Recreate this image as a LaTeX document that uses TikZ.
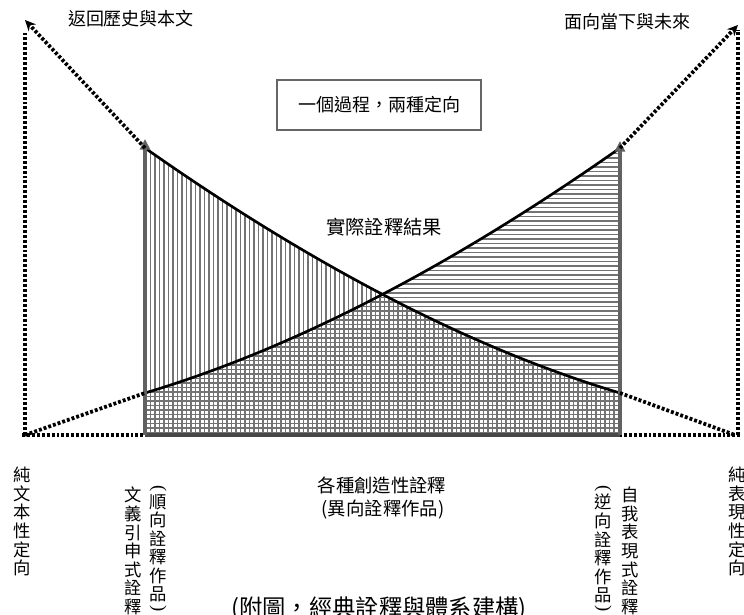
\documentclass[tikz,border=0pt]{standalone}
\usepackage{fontspec}
\setmainfont{Liberation Serif}
\newfontfamily\cjk{Noto Sans CJK TC}
\usetikzlibrary{arrows.meta}
\begin{document}
\begin{tikzpicture}[x=0.75pt,y=-0.75pt,
  dotln/.style={line width=2.8pt, dash pattern=on 2.2pt off 1.5pt, black},
  curv/.style={line width=2pt, black},
  hatchln/.style={line width=1.15pt, black!55},
  garrow/.style={line width=2.3pt, black!62, -{Triangle[length=8pt,width=7.5pt]}},
  dtip/.style={-{Stealth[length=8pt,width=7.5pt]}},
  lbl/.style={font=\cjk\fontsize{13.5}{14}\selectfont, inner sep=0pt},
  vlbl/.style={font=\cjk\fontsize{13}{13.9}\selectfont, inner sep=0pt, align=center, anchor=north},
  vparen/.style={font=\rmfamily\fontsize{14}{14}\selectfont, inner sep=0pt, rotate=-90},
  titlebox/.style={draw=black!60, line width=1.4pt, minimum width=153pt, minimum height=37.5pt, font=\cjk\fontsize{13.5}{14}\selectfont}
]
\useasboundingbox (0,0) rectangle (744,615);

% key points
\coordinate (TL) at (25,20);
\coordinate (TR) at (738,25);
\coordinate (BL) at (25,435);
\coordinate (BR) at (738,435);
\coordinate (LV) at (25,33);
\coordinate (RV) at (738,30);
\coordinate (B0) at (22,435);
\coordinate (B1) at (742,435);
\coordinate (DA) at (145,148);
\coordinate (DB) at (620,393);
\coordinate (AA) at (145,393);
\coordinate (AB) at (620,148);
\coordinate (DE) at (735,435);
\coordinate (GL0) at (145,435);
\coordinate (GL1) at (145,139);
\coordinate (GR0) at (620,435);
\coordinate (GR1) at (620,141);

% vertical hatching under descending curve
\begin{scope}
  \clip (GL0) -- (DA) .. controls (303,259) and (462,345.6) .. (DB) -- (GR0) -- cycle;
  \foreach \x in {146,150.5,...,622} \draw[hatchln] (\x,140) -- (\x,440);
\end{scope}
% horizontal hatching under ascending curve
\begin{scope}
  \clip (GL0) -- (AA) .. controls (303,345.6) and (462,259) .. (AB) -- (GR0) -- cycle;
  \foreach \y in {149,153.5,...,437} \draw[hatchln] (140,\y) -- (625,\y);
\end{scope}

% baseline and side verticals
\draw[dotln] (B0) -- (B1);
\draw[line width=2.4pt, black!72] (GL0) -- (GR0);
\draw[dotln] (BL) -- (LV);
\draw[dotln] (BR) -- (RV);

% curves
\draw[curv] (DA) .. controls (303,259) and (462,345.6) .. (DB);
\draw[curv] (AA) .. controls (303,345.6) and (462,259) .. (AB);

% gray arrows
\draw[garrow] (GL0) -- (GL1);
\draw[garrow] (GR0) -- (GR1);

% dotted continuations
\draw[dotln, dtip] (DA) -- (TL);
\draw[dotln] (DB) -- (DE);
\draw[dotln] (BL) -- (AA);
\draw[dotln, dtip] (AB) -- (TR);

% labels
\node[lbl] (past) at (131,19) {返回歷史與本文};
\node[lbl] (future) at (627,22) {面向當下與未來};
\node[titlebox] (box) at (379,105) {一個過程，兩種定向};
\node[lbl, font=\cjk\fontsize{14.5}{15}\selectfont] (result) at (384,227) {實際詮釋結果};
\node[lbl, font=\cjk\fontsize{13.8}{14}\selectfont] (creative) at (382,485) {各種創造性詮釋};
\node[lbl, font=\cjk\fontsize{13.8}{14}\selectfont] (creative2) at (383,510) {(異向詮釋作品)};

\node[vlbl] (puretext) at (22,467) {純\\文\\本\\性\\定\\向};
\node[vlbl] (yinshen) at (133,487) {文\\義\\引\\申\\式\\詮\\釋};
\node[vparen] (shunA) at (158,489) {(};
\node[vlbl] (shun) at (158,494) {順\\向\\詮\\釋\\作\\品};
\node[vparen] (shunB) at (158,609) {)};
\node[vparen] (niA) at (603,489) {(};
\node[vlbl] (ni) at (603,494) {逆\\向\\詮\\釋\\作\\品};
\node[vparen] (niB) at (603,609) {)};
\node[vlbl] (ziwo) at (630,487) {自\\我\\表\\現\\式\\詮\\釋};
\node[vlbl] (pureexp) at (737,467) {純\\表\\現\\性\\定\\向};

\node[lbl, font=\cjk\fontsize{17.5}{18}\selectfont] (caption) at (379,609) {(附圖，經典詮釋與體系建構)};
\end{tikzpicture}
\end{document}
